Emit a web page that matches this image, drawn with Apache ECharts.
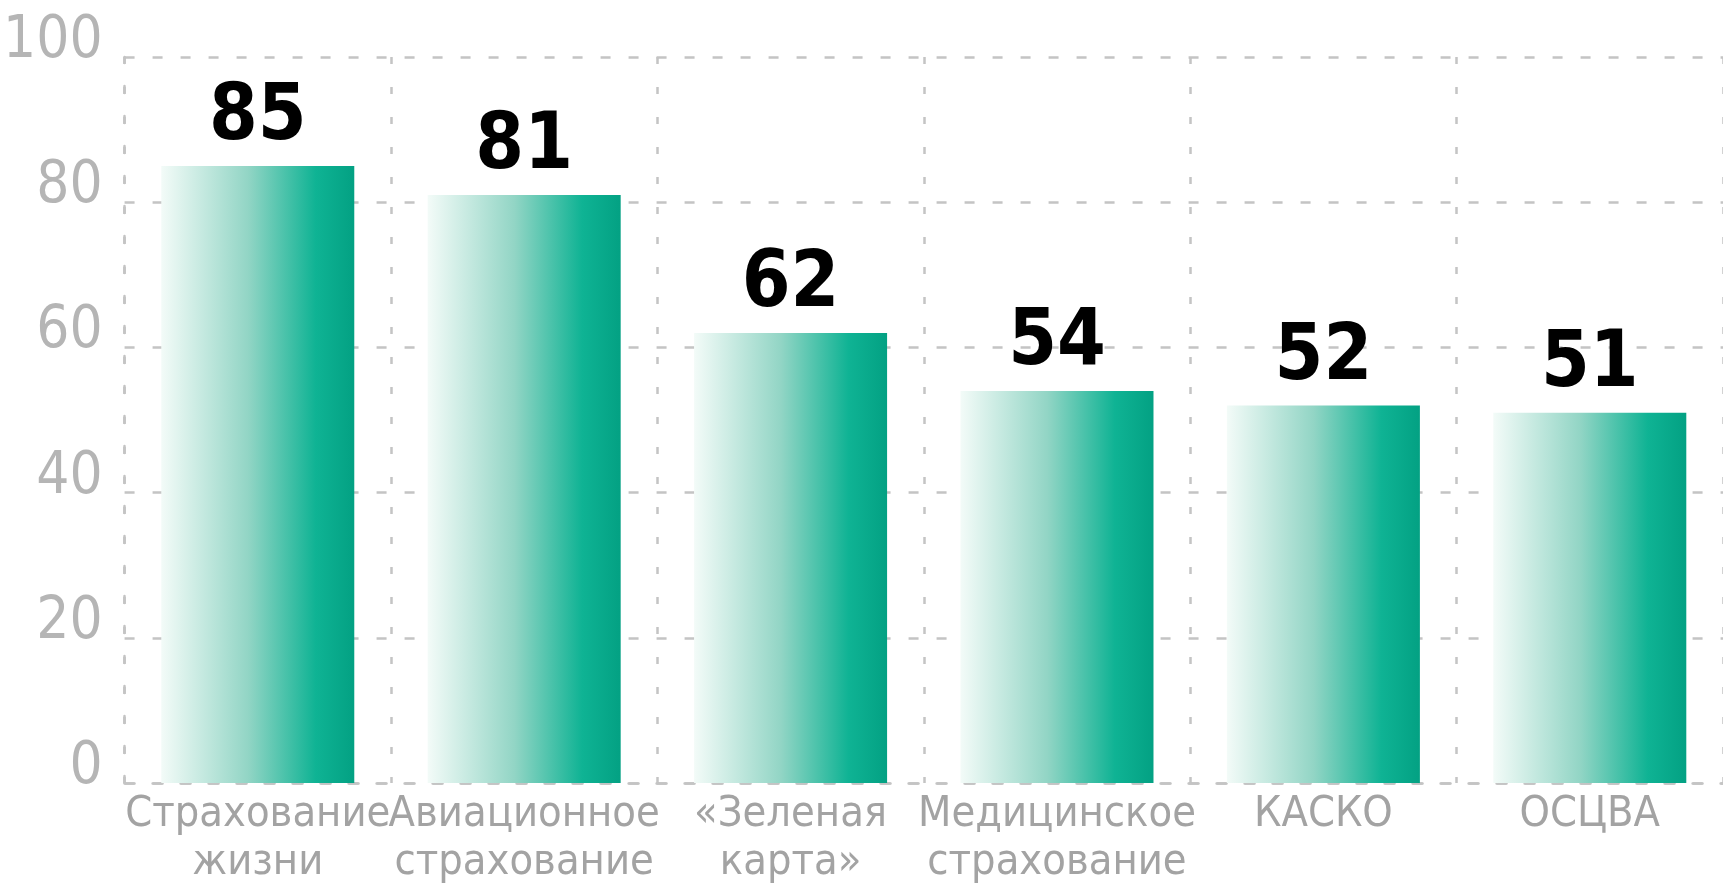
<!DOCTYPE html>
<html>
<head>
    <meta charset="utf-8">
    <title>Страхование</title>
    <script src="https://cdn.jsdelivr.net/npm/echarts@6/dist/echarts.min.js"></script>
    <style>
        html, body { margin: 0; padding: 0; background: #fff; }
        #chart { width: 1723px; height: 890px; }
    </style>
</head>
<body>
<div id="chart"></div>
<script type="text/javascript">
    // данные
    var categories = ['Страхование\nжизни', 'Авиационное\nстрахование', '«Зеленая\nкарта»', 'Медицинское\nстрахование', 'КАСКО', 'ОСЦВА'];
    var values = [85, 81, 62, 54, 52, 51];
    var yTicks = [0, 20, 40, 60, 80, 100];

    var narrow = '"Liberation Sans Narrow", "DejaVu Sans Condensed", "Roboto", sans-serif';
    var gridColor = '#c4c4c4';

    var myChart = echarts.init(document.getElementById('chart'));

    var option = {
        animation: false,
        grid: {
            left: 118,
            top: 57,
            width: 1620,
            height: 726
        },
        xAxis: {
            type: 'category',
            data: categories,
            axisLine: {
                lineStyle: { color: gridColor, width: 2.5, type: [10, 18] }
            },
            axisTick: { show: false },
            axisLabel: {
                interval: 0,
                margin: 8,
                color: '#a3a3a3',
                fontFamily: narrow,
                fontSize: 43,
                lineHeight: 48
            },
            splitLine: {
                show: true,
                interval: 0,
                lineStyle: { color: gridColor, width: 2.5, type: [7, 23] }
            }
        },
        yAxis: {
            type: 'value',
            min: yTicks[0],
            max: yTicks[yTicks.length - 1],
            interval: 20,
            axisLine: {
                show: true,
                lineStyle: { color: gridColor, width: 2.5, type: [7, 23] }
            },
            axisTick: { show: false },
            axisLabel: {
                margin: 22,
                color: '#b5b5b5',
                fontFamily: narrow,
                fontSize: 58,
                formatter: function (v) {
                    return '{n|' + v + '}';
                },
                rich: {
                    n: { padding: [0, 0, 30, 0] }
                }
            },
            splitLine: {
                lineStyle: { color: gridColor, width: 2.5, type: [10, 18] }
            }
        },
        series: [{
            type: 'bar',
            data: values,
            barWidth: 193,
            itemStyle: {
                color: new echarts.graphic.LinearGradient(0, 0, 1, 0, [
                    { offset: 0, color: '#f3fbf8' },
                    { offset: 0.45, color: '#92d5c5' },
                    { offset: 0.8, color: '#0fb394' },
                    { offset: 1, color: '#03a183' }
                ])
            },
            label: {
                show: true,
                position: 'top',
                distance: 8,
                color: '#000',
                fontFamily: narrow,
                fontWeight: 'bold',
                fontSize: 78
            }
        }]
    };

    myChart.setOption(option);
</script>
</body>
</html>
